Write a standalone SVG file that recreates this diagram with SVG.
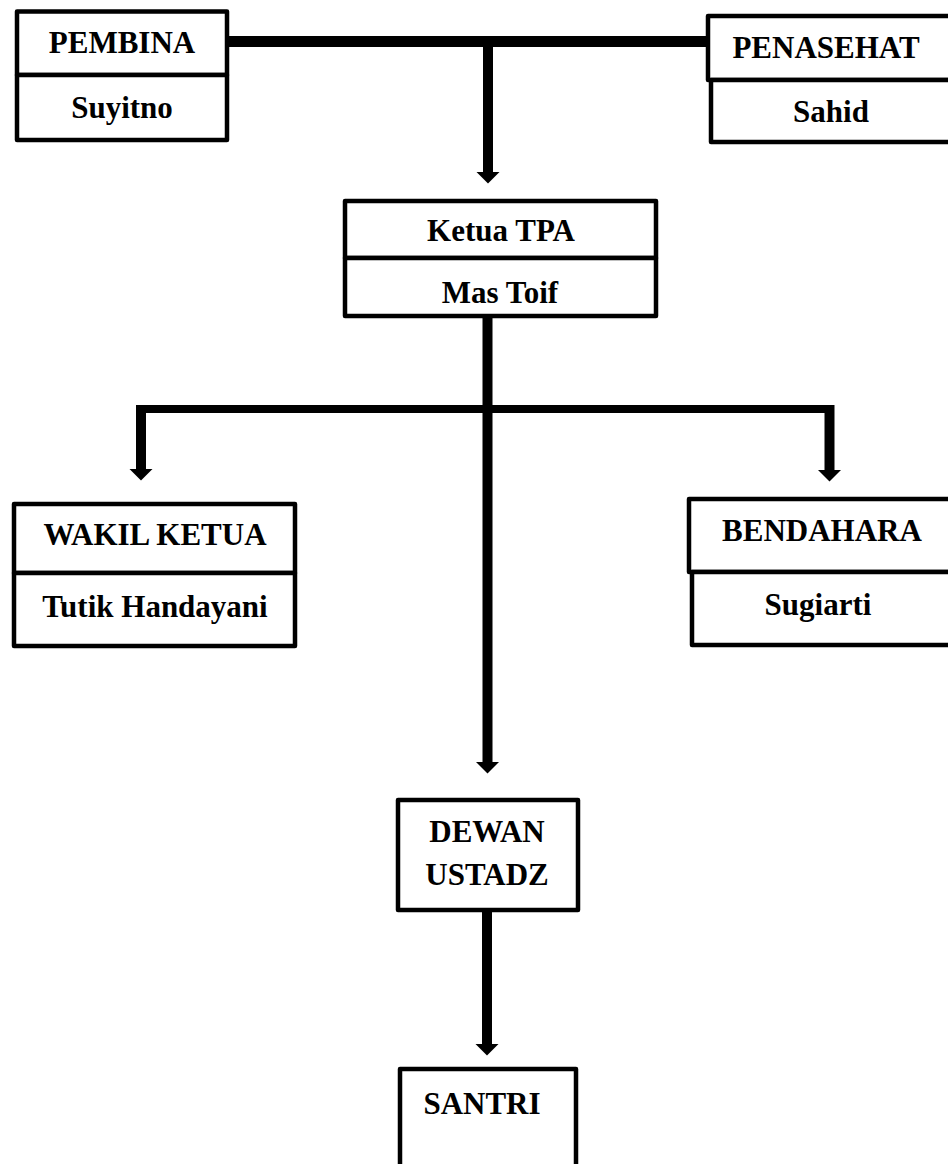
<svg xmlns="http://www.w3.org/2000/svg" width="948" height="1164" viewBox="0 0 948 1164">
<style>
.box{fill:#fff;stroke:#000;stroke-width:4.5;stroke-linejoin:round}
.t{font-family:"Liberation Serif","Times New Roman",serif;font-weight:bold;font-size:31px;fill:#000;text-anchor:middle}
.c{stroke:#000;fill:none;stroke-linecap:butt}
</style>
<defs>
<marker id="ah" viewBox="0 0 12 24" refX="0.5" refY="12" markerWidth="12" markerHeight="24" markerUnits="userSpaceOnUse" orient="auto">
<path d="M0,0 L12,12 L0,24 z" fill="#000"/>
</marker>
</defs>
<rect width="948" height="1164" fill="#fff"/>
<g id="connectors">
<line class="c" x1="229" y1="41.5" x2="708" y2="41.5" stroke-width="11"/>
<line class="c" x1="488" y1="41.5" x2="488" y2="172" stroke-width="10" marker-end="url(#ah)"/>
<line class="c" x1="487.5" y1="318" x2="487.5" y2="762" stroke-width="10" marker-end="url(#ah)"/>
<line class="c" x1="136" y1="409" x2="834" y2="409" stroke-width="8"/>
<line class="c" x1="141" y1="405" x2="141" y2="469" stroke-width="10" marker-end="url(#ah)"/>
<line class="c" x1="829.5" y1="405" x2="829.5" y2="470" stroke-width="10" marker-end="url(#ah)"/>
<line class="c" x1="487" y1="912" x2="487" y2="1044" stroke-width="10" marker-end="url(#ah)"/>
</g>
<g id="pembina">
<rect class="box" x="17" y="11.5" width="210" height="63.5"/>
<rect class="box" x="17" y="75" width="210" height="65"/>
<text class="t" x="122" y="53">PEMBINA</text>
<text class="t" x="122" y="118">Suyitno</text>
</g>
<g id="penasehat">
<rect class="box" x="708" y="16" width="260" height="64"/>
<rect class="box" x="711" y="80" width="260" height="62"/>
<text class="t" x="826" y="58">PENASEHAT</text>
<text class="t" x="831" y="122">Sahid</text>
</g>
<g id="ketua">
<rect class="box" x="345" y="201" width="311" height="57"/>
<rect class="box" x="345" y="258" width="311" height="58"/>
<text class="t" x="501" y="241">Ketua TPA</text>
<text class="t" x="500" y="303">Mas Toif</text>
</g>
<g id="wakil">
<rect class="box" x="14" y="504" width="281" height="69"/>
<rect class="box" x="14" y="573" width="281" height="73"/>
<text class="t" x="155" y="545">WAKIL KETUA</text>
<text class="t" x="155" y="617">Tutik Handayani</text>
</g>
<g id="bendahara">
<rect class="box" x="689" y="499" width="281" height="73"/>
<rect class="box" x="692" y="572" width="281" height="73"/>
<text class="t" x="822" y="541">BENDAHARA</text>
<text class="t" x="818" y="615">Sugiarti</text>
</g>
<g id="dewan">
<rect class="box" x="398" y="800" width="180" height="110"/>
<text class="t" x="487" y="842">DEWAN</text>
<text class="t" x="487" y="885">USTADZ</text>
</g>
<g id="santri">
<rect class="box" x="400" y="1069" width="176" height="120"/>
<text class="t" x="482" y="1114">SANTRI</text>
</g>
</svg>
